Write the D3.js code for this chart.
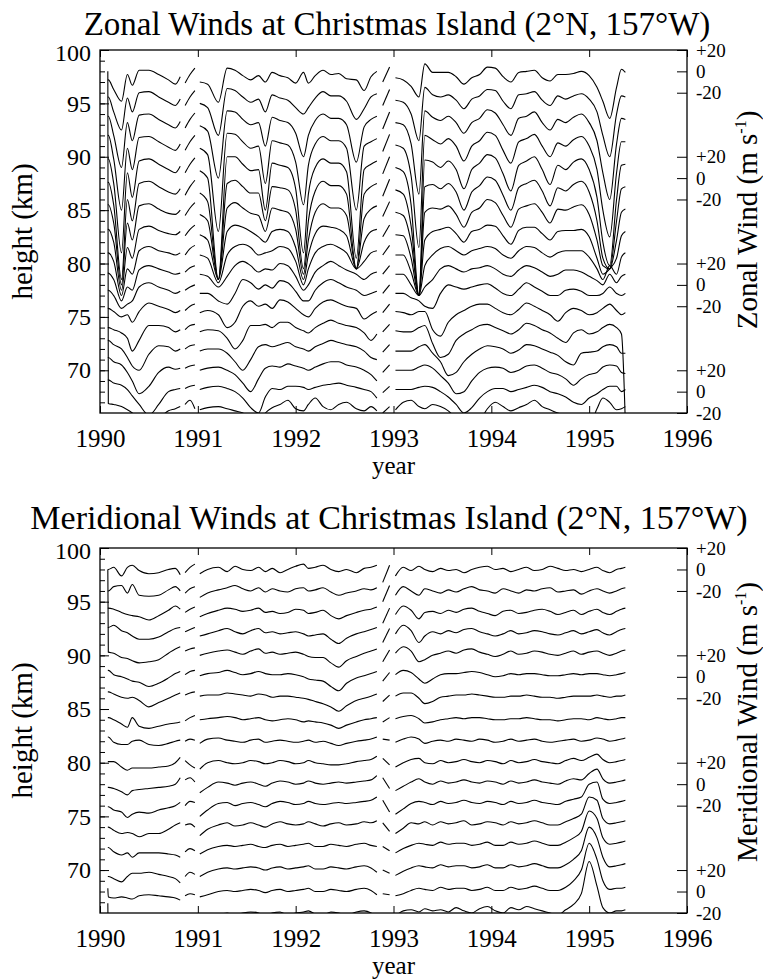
<!DOCTYPE html>
<html>
<head>
<meta charset="utf-8">
<script src="https://cdn.jsdelivr.net/npm/d3@7"></script>
<style>
body { margin: 0; background: #fff; }
</style>
</head>
<body>
<script>
// time knots per data segment (gaps between segments)
var yearSegments = [
  [1990.08, 1990.085, 1990.14, 1990.22, 1990.28, 1990.33, 1990.40, 1990.50, 1990.60, 1990.70, 1990.77, 1990.82],
  [1990.87, 1990.92, 1990.97],
  [1991.02, 1991.10, 1991.21, 1991.30, 1991.38, 1991.46, 1991.54, 1991.62, 1991.69, 1991.76, 1991.84, 1991.92,
   1992.00, 1992.08, 1992.13, 1992.20, 1992.28, 1992.36, 1992.44, 1992.52, 1992.62, 1992.70, 1992.77, 1992.83],
  [1992.89, 1992.96],
  [1993.02, 1993.10, 1993.18, 1993.26, 1993.32, 1993.40, 1993.48, 1993.56, 1993.64, 1993.72, 1993.80, 1993.88,
   1993.96, 1994.04, 1994.12, 1994.20, 1994.28, 1994.36, 1994.44, 1994.52, 1994.60, 1994.68, 1994.76, 1994.84,
   1994.92, 1995.00, 1995.08, 1995.14, 1995.21, 1995.28, 1995.33, 1995.37]
];

var heights = [98, 96, 94, 92, 90, 88, 86, 84, 82, 80, 78, 76, 74, 72, 70, 68, 66];

// zonal wind, m/s
var zonal98 = [[-8,-8,-17,-28,-3,-13,1,1,-3,-8,-12,-5],[-11,-3,3],
  [-10,-12,-29,3,1,-4,-8,-4,-10,-1,-4,-6,-11,-1,-11,-4,1,-3,-2,-7,-8,-18,-5,0],[-10,4],
  [-6,-8,-14,-24,7,-1,-1,-1,-5,-12,-6,-3,4,3,-5,-10,-1,0,1,-6,-9,-3,-3,-2,0,-4,-15,-28,-44,-15,2,-1]];
var zonal96 = [[-4,-4,-18,-35,-5,-18,0,1,-4,-9,-12,-6],[-12,-4,2],
  [-10,-14,-40,4,2,-4,-9,-6,-18,-2,-5,-7,-14,-20,-14,-5,1,-3,-3,-8,-25,-15,-4,-1],[-12,3],
  [-7,-9,-20,-45,5,-2,-4,-2,-7,-15,-6,-3,3,2,-8,-15,-2,-1,1,-7,-12,-3,-6,-3,-1,-6,-18,-40,-60,-20,-3,-4]];
var zonal94 = [[-2,-2,-20,-50,-8,-25,-1,0,-5,-10,-13,-7],[-13,-5,1],
  [-11,-16,-60,3,2,-5,-10,-8,-30,-3,-6,-8,-18,-40,-20,-6,0,-4,-4,-10,-45,-12,-5,-2],[-14,2],
  [-8,-10,-28,-75,3,-3,-6,-2,-8,-18,-8,-4,4,1,-10,-20,-4,-2,2,-8,-15,-5,-8,-3,0,-8,-25,-55,-80,-28,-4,-5]];
var zonal92 = [[0,0,-22,-70,-12,-32,-2,-1,-6,-11,-14,-8],[-14,-6,0],
  [-12,-18,-90,2,1,-6,-12,-10,-45,-5,-7,-9,-25,-65,-28,-8,-1,-5,-5,-12,-70,-10,-6,-3],[-15,1],
  [-9,-12,-38,-105,0,-4,-8,-3,-10,-24,-10,-5,3,0,-14,-26,-6,-3,1,-10,-20,-7,-10,-4,-1,-10,-32,-70,-95,-35,-6,-6]];
var zonal90 = [[-2,-2,-25,-90,-15,-38,-4,-2,-7,-12,-15,-9],[-15,-7,-1],
  [-13,-20,-115,0,0,-7,-13,-12,-50,-6,-8,-10,-30,-90,-35,-10,-2,-6,-6,-14,-95,-12,-7,-4],[-16,0],
  [-10,-14,-45,-130,-3,-5,-10,-4,-12,-30,-12,-6,2,-1,-16,-32,-8,-4,0,-12,-26,-8,-12,-5,-2,-12,-38,-80,-102,-40,-8,-7]];
var zonal88 = [[-4,-4,-25,-95,-20,-40,-5,-3,-8,-13,-15,-10],[-16,-8,-2],
  [-14,-22,-95,-5,-2,-8,-14,-14,-40,-8,-9,-11,-30,-85,-40,-12,-3,-7,-7,-15,-85,-15,-8,-5],[-17,-1],
  [-11,-15,-45,-110,-8,-6,-10,-5,-13,-30,-13,-7,1,-2,-16,-30,-9,-5,-2,-12,-26,-9,-12,-6,-3,-13,-40,-75,-85,-40,-10,-8]];
var zonal86 = [[-5,-5,-22,-80,-22,-38,-6,-4,-9,-13,-14,-10],[-15,-8,-3],
  [-14,-20,-75,-8,-3,-8,-13,-15,-30,-8,-10,-12,-28,-70,-38,-12,-4,-8,-8,-15,-65,-18,-9,-6],[-16,-2],
  [-12,-15,-40,-90,-12,-8,-9,-6,-14,-26,-12,-8,0,-3,-15,-26,-9,-6,-4,-12,-22,-9,-10,-7,-5,-14,-38,-62,-65,-38,-12,-9]];
var zonal84 = [[-8,-8,-20,-65,-25,-35,-8,-5,-9,-12,-13,-10],[-14,-8,-4],
  [-13,-18,-55,-10,-4,-6,-10,-15,-20,-10,-8,-10,-25,-55,-32,-12,-5,-6,-8,-14,-45,-20,-10,-8],[-15,-4],
  [-13,-14,-35,-70,-18,-10,-8,-6,-12,-20,-10,-8,-4,-5,-14,-22,-9,-6,-6,-12,-18,-10,-9,-9,-8,-15,-35,-50,-45,-35,-14,-10]];
var zonal82 = [[-10,-10,-18,-50,-25,-30,-8,-4,-8,-10,-12,-10],[-12,-6,-3],
  [-12,-15,-38,-12,-4,-2,-5,-12,-10,-8,-4,-6,-18,-40,-25,-10,-4,-2,-5,-10,-25,-18,-10,-8],[-12,-3],
  [-12,-12,-28,-50,-22,-12,-6,-4,-8,-12,-8,-6,-4,-6,-12,-15,-8,-4,-5,-10,-14,-10,-8,-8,-8,-14,-25,-35,-22,-30,-14,-10]];
var zonal80 = [[-9,-9,-15,-35,-22,-25,-6,-2,-5,-8,-10,-9],[-8,-4,-2],
  [-10,-12,-22,-12,-2,2,-2,-8,-5,-6,0,-2,-12,-25,-20,-8,-2,2,-2,-6,-10,-15,-10,-8],[-10,-2],
  [-10,-10,-20,-30,-22,-15,-5,-2,-5,-8,-5,-4,-2,-5,-10,-12,-6,-2,-4,-8,-12,-10,-6,-6,-8,-12,-16,-20,-10,-18,-12,-10]];
var zonal78 = [[-5,-5,-10,-22,-18,-15,-2,2,-2,-5,-8,-6],[-5,-2,0],
  [-8,-8,-15,-18,-8,5,2,-4,0,-3,4,2,-6,-15,-15,-5,2,5,2,-2,-5,-10,-8,-6],[-8,0],
  [-8,-8,-12,-15,-20,-22,-8,0,-2,-4,-2,0,1,-3,-8,-10,-4,2,-2,-6,-10,-10,-5,-4,-6,-10,-10,-8,-2,-8,-10,-8]];
var zonal76 = [[-2,-2,-5,-10,-8,-15,-5,3,0,-3,-6,-4],[-4,0,2],
  [-6,-4,-8,-20,-15,0,5,0,2,-2,6,4,-2,-8,-10,-2,4,6,3,0,-2,-12,-8,-5],[-6,2],
  [-5,-6,-8,-5,-5,-22,-28,-15,-8,-4,0,2,2,-2,-6,-8,-3,3,0,-4,-8,-14,-6,-2,-4,-8,-6,-2,2,-4,-8,-6]];
var zonal74 = [[0,0,-2,-5,-10,-22,-12,2,2,0,-4,-2],[-2,2,3],
  [-4,-2,-3,-10,-20,-12,2,2,3,0,5,5,0,-3,-5,0,4,7,4,2,0,-5,-12,-6],[-4,3],
  [-3,-4,-4,0,2,-15,-28,-25,-12,-6,-2,2,3,0,-3,-6,-2,4,2,-2,-5,-10,-14,-5,-2,-6,-4,0,3,0,-6,-90]];
var zonal72 = [[8,8,4,0,-8,-16,-20,-5,3,2,-2,0],[0,3,4],
  [-2,0,0,-4,-12,-20,-10,2,4,2,4,6,2,0,-2,2,5,8,6,4,2,-2,-8,-10],[-3,4],
  [-2,-2,-2,2,4,-4,-12,-25,-22,-12,-5,0,3,2,0,-4,-1,4,3,0,-3,-6,-12,-15,-4,-3,-2,2,4,2,-4,-4]];
var zonal70 = [[12,12,8,5,-2,-10,-22,-15,-2,3,1,2],[2,4,5],
  [0,2,3,0,-4,-12,-20,-8,2,4,3,6,4,2,0,3,6,8,8,5,3,0,-4,-10],[-2,5],
  [0,0,0,3,5,2,-5,-12,-22,-20,-10,-2,2,3,2,-2,0,4,5,2,-2,-4,-8,-14,-8,-4,-2,3,5,4,-2,-3]];
var zonal68 = [[11,11,8,6,2,-4,-12,-22,-12,0,2,3],[3,5,6],
  [2,4,5,3,0,-6,-15,-20,-5,3,2,5,5,4,2,4,6,7,8,6,4,2,0,-6],[-1,5],
  [2,2,2,4,5,4,0,-5,-12,-20,-15,-6,0,3,3,0,2,4,6,4,0,-2,-5,-10,-12,-6,-2,2,5,5,0,2]];
var zonal66 = [[320,9,8,6,3,0,-5,-10,-5,2,4,6],[8,12,4],
  [3,5,6,4,2,0,-6,-10,0,5,8,12,4,2,8,14,6,3,8,10,4,2,6,2],[0,6],
  [3,10,12,6,4,8,6,2,-5,-10,-15,-8,4,10,6,2,5,8,12,6,3,0,-2,-4,-8,-12,4,14,10,3,4,6]];

// meridional wind, m/s
var merid98 = [[0,0,2,-6,2,4,-1,-4,-3,0,1,-5],[-3,2,5],
  [-4,0,2,-2,3,0,-1,2,-2,1,-3,0,3,5,1,2,4,0,-2,0,-3,1,2,4],[-12,4],
  [-6,2,-1,3,0,-2,1,-1,0,-3,0,2,3,0,1,-2,0,2,-1,0,3,1,-1,0,-2,0,2,-1,-3,0,1,2]];
var merid96 = [[0,0,4,5,-2,6,-4,-5,-4,1,4,0],[-2,2,4],
  [-6,-2,1,3,5,2,0,3,-1,2,0,-1,2,3,0,1,3,-1,-4,-2,0,2,1,3],[-10,5],
  [-4,4,0,-4,2,0,-2,1,-1,2,4,1,0,-2,2,0,-2,1,0,2,3,-1,0,1,-3,0,2,0,-2,0,2,3]];
var merid94 = [[4,4,3,0,-2,-3,-4,-7,-3,2,6,3],[0,3,5],
  [-4,-1,2,4,3,1,2,4,0,1,-1,0,3,2,-1,0,2,-3,-6,-3,0,2,3,5],[-10,4],
  [-2,6,2,-6,0,1,-1,2,0,3,4,1,-1,-3,1,2,-1,0,2,3,1,-2,0,2,-2,1,3,0,-2,1,3,4]];
var merid92 = [[6,6,8,3,1,-2,-5,-5,-3,2,5,6],[2,4,6],
  [-2,0,3,5,2,0,3,5,1,2,0,1,2,0,-2,-1,0,-5,-9,-4,0,2,4,6],[-8,5],
  [0,8,3,-8,-2,2,0,3,1,4,5,2,0,-2,0,3,0,1,3,2,0,-1,1,3,0,2,4,1,-1,2,4,5]];
var merid90 = [[80,3,2,-2,-3,-5,-7,-6,-4,2,6,8],[4,6,7],
  [0,2,4,5,3,1,4,6,2,3,1,2,3,1,-1,-2,-2,-7,-11,-5,-1,2,4,6],[-6,5],
  [2,8,4,-6,-4,0,2,4,2,5,6,3,1,-1,1,4,1,2,4,3,1,0,2,4,1,3,4,2,0,2,4,5]];
var merid88 = [[6,6,2,0,-2,-4,-5,-9,-6,-1,3,5],[2,5,6],
  [1,3,4,6,4,2,3,5,3,2,2,3,2,0,-2,-3,-4,-9,-13,-6,-1,1,3,5],[-4,4],
  [2,6,4,-2,-6,-2,2,3,3,4,5,4,2,0,1,3,2,3,3,2,1,1,2,3,2,3,3,2,1,2,3,4]];
var merid86 = [[6,6,4,1,0,1,-2,-8,-4,0,3,5],[3,5,6],
  [2,3,3,5,4,3,2,4,3,1,2,2,1,0,-1,-3,-5,-8,-12,-7,-2,0,2,4],[-3,3],
  [2,5,5,0,-5,-3,1,2,3,3,4,3,2,1,1,2,2,3,2,1,1,0,1,2,2,2,3,2,1,2,2,3]];
var merid84 = [[2,2,0,-4,-7,2,-6,-8,-6,-4,-3,-2],[-1,2,4],
  [0,1,2,3,2,0,1,2,0,-1,0,1,0,-2,-1,-2,-3,-5,-8,-5,-2,0,1,2],[-2,2],
  [1,3,4,1,-3,-2,0,1,2,1,2,2,1,0,0,1,1,2,1,0,0,-1,0,1,1,0,2,1,0,1,2,2]];
var merid82 = [[4,4,-1,-3,-3,0,1,-3,-4,-2,0,1],[0,2,1],
  [-2,2,3,1,0,-1,1,2,-1,0,1,0,-1,0,1,-1,0,-2,-4,-2,0,1,2,4],[2,1],
  [-1,2,4,2,-2,0,1,0,2,1,0,2,1,-1,0,2,0,1,2,0,-1,0,1,2,0,1,3,2,0,1,2,3]];
var merid80 = [[1,1,1,-4,-7,-5,-5,-5,-4,-3,0,5],[2,-2,-5],
  [-6,0,2,0,-1,0,2,1,-1,0,2,1,-1,0,2,0,-1,-2,-2,-1,1,2,3,6],[4,-2],
  [-4,0,3,4,0,-1,2,0,1,3,1,0,2,1,-1,2,0,1,3,1,0,-1,2,4,2,5,8,3,0,1,2,3]];
var merid78 = [[-3,-3,-4,-7,-10,-6,-5,-4,-3,-2,0,6],[4,6,2],
  [-8,-3,2,1,-1,1,2,0,-2,1,3,2,0,1,3,1,0,1,2,1,2,3,4,8],[6,-4],
  [-6,-2,2,5,2,0,3,1,2,4,2,1,3,2,0,3,1,2,4,2,1,0,3,5,4,10,14,5,1,2,3,4]];
var merid76 = [[-1,-1,-4,-6,-11,-8,-6,-7,-4,-2,0,3],[0,4,3],
  [-10,-4,2,3,0,2,3,1,-1,2,4,3,1,2,4,2,1,2,3,2,3,4,5,8],[5,-6],
  [-8,-3,2,4,3,1,4,2,3,5,3,2,4,3,1,4,2,3,5,3,2,1,4,6,8,20,22,6,2,3,4,5]];
var merid74 = [[0,0,-3,-6,-5,-6,-9,-6,-6,-2,2,4],[2,3,0],
  [-8,-2,2,4,1,2,4,2,0,3,5,3,2,3,5,3,1,3,4,2,3,5,4,6],[4,-4],
  [-6,-1,4,3,5,2,5,3,4,6,2,3,5,4,2,5,3,4,6,4,2,2,5,8,12,28,25,8,3,4,5,6]];
var merid72 = [[1,1,-3,-6,-4,-8,-4,-4,-4,-5,-6,-8],[-3,0,-2],
  [-5,-1,2,3,2,3,4,2,1,3,4,2,3,4,5,2,2,4,3,2,4,5,3,2],[2,-2],
  [-4,0,3,5,4,3,6,4,5,5,3,4,6,3,3,6,4,5,7,5,3,3,6,10,16,35,28,10,4,5,6,7]];
var merid70 = [[-6,-6,-8,-11,-6,-3,-3,-2,-4,-6,-8,-12],[-6,-2,-4],
  [-6,-2,1,2,1,2,3,2,0,2,3,1,2,3,4,1,1,3,2,1,3,4,2,-2],[0,-3],
  [-5,-1,2,4,3,2,5,3,4,4,2,3,5,2,2,5,3,4,6,4,2,2,5,10,18,40,30,12,3,4,5,6]];
var merid68 = [[3,-5,-6,-5,-6,-7,-4,-3,-4,-5,-6,-8],[-4,-2,-3],
  [-5,-3,0,1,0,1,2,1,-1,1,2,0,1,2,3,0,0,2,1,0,2,3,1,-3],[-2,-3],
  [-4,-2,1,3,2,1,4,2,3,3,1,2,4,1,1,4,2,3,5,3,1,1,4,10,20,45,30,10,2,3,3,4]];
var merid66 = [[9,-20,-3,-5,-8,-6,-4,-6,-5,-3,-4,-2],[-6,-3,-4],
  [-6,-4,-2,0,-2,0,1,0,-3,0,1,-2,0,1,2,-1,-2,1,0,-2,1,2,0,-4],[-3,-4],
  [-3,2,3,1,4,2,3,1,5,2,0,4,6,2,0,5,3,6,4,2,0,-2,3,8,18,48,25,5,0,2,2,3]];

var zonalSeries = [zonal98, zonal96, zonal94, zonal92, zonal90, zonal88, zonal86, zonal84, zonal82,
                   zonal80, zonal78, zonal76, zonal74, zonal72, zonal70, zonal68, zonal66];
var meridSeries = [merid98, merid96, merid94, merid92, merid90, merid88, merid86, merid84, merid82,
                   merid80, merid78, merid76, merid74, merid72, merid70, merid68, merid66];

var yearTicks = [1990, 1991, 1992, 1993, 1994, 1995, 1996];
var heightTicks = [70, 75, 80, 85, 90, 95, 100];
var windTicks = [20, 0, -20];
var windTickLabels = ["+20", "0", "-20"];
var windRefHeights = [98, 88, 78, 68];
var kmPerMs = 0.1;   // each trace: 10 m/s = 1 km of offset

var W = 763, H = 979;
var left = 100, right = 687;
var serif = "'Liberation Serif', 'Times New Roman', serif";

var svg = d3.select("body").append("svg")
    .attr("width", W)
    .attr("height", H);

svg.append("rect").attr("width", W).attr("height", H).attr("fill", "#fff");

var x = d3.scaleLinear().domain([1990, 1996]).range([left, right]);

function label(sel, size) {
  return sel.style("font-family", serif).style("font-size", size + "px").style("fill", "#000");
}

var panels = [
  {id: "zonal", title: "Zonal Winds at Christmas Island (2°N, 157°W)", wind: "Zonal Wind",
   series: zonalSeries, top: 50, bottom: 413, titleX: 397, titleY: 35, titleSize: 33, windY: 220},
  {id: "merid", title: "Meridional Winds at Christmas Island (2°N, 157°W)", wind: "Meridional Wind",
   series: meridSeries, top: 548, bottom: 913, titleX: 389, titleY: 529, titleSize: 34, windY: 722}
];

panels.forEach(function(p) {
  var y = d3.scaleLinear().domain([66, 100]).range([p.bottom, p.top]);

  svg.append("clipPath").attr("id", "clip-" + p.id)
    .append("rect")
    .attr("x", left).attr("y", p.top)
    .attr("width", right - left).attr("height", p.bottom - p.top);

  var plot = svg.append("g").attr("clip-path", "url(#clip-" + p.id + ")");

  p.series.forEach(function(segs, i) {
    var h = heights[i];
    var line = d3.line()
      .curve(d3.curveMonotoneX)
      .x(function(d) { return x(d[0]); })
      .y(function(d) { return y(h + d[1] * kmPerMs); });
    segs.forEach(function(vals, s) {
      plot.append("path")
        .datum(d3.zip(yearSegments[s], vals))
        .attr("fill", "none")
        .attr("stroke", "#000")
        .attr("stroke-width", 1.1)
        .attr("d", line);
    });
  });

  // frame
  svg.append("rect")
    .attr("x", left).attr("y", p.top)
    .attr("width", right - left).attr("height", p.bottom - p.top)
    .attr("fill", "none").attr("stroke", "#000").attr("stroke-width", 1.3);

  // left axis: majors with labels, minors every km
  var gl = svg.append("g").attr("transform", "translate(" + left + ",0)")
    .call(d3.axisLeft(y).tickValues(heightTicks).tickSizeInner(-9).tickSizeOuter(0).tickPadding(9));
  gl.select(".domain").remove();
  label(gl.selectAll("text"), 24);
  gl.selectAll(".tick").filter(function(v) { return v === 100; }).select("text").attr("y", 3);
  var gm = svg.append("g").attr("transform", "translate(" + left + ",0)")
    .call(d3.axisLeft(y).tickValues(d3.range(67, 100)).tickSizeInner(-5).tickSizeOuter(0).tickFormat(""));
  gm.select(".domain").remove();

  // top and bottom year ticks
  var gt = svg.append("g").attr("transform", "translate(0," + p.top + ")")
    .call(d3.axisTop(x).tickValues(yearTicks).tickSizeInner(-7).tickSizeOuter(0).tickFormat(""));
  gt.select(".domain").remove();
  var gb = svg.append("g").attr("transform", "translate(0," + p.bottom + ")")
    .call(d3.axisBottom(x).tickValues(yearTicks).tickSizeInner(-7).tickSizeOuter(0)
      .tickPadding(16).tickFormat(d3.format("d")));
  gb.select(".domain").remove();
  label(gb.selectAll("text"), 25);

  label(svg.append("text"), 25)
    .attr("x", (left + right) / 2).attr("y", p.bottom + 61)
    .attr("text-anchor", "middle")
    .text("year");

  // right wind scale
  var rightVals = [], rightLabels = {};
  windRefHeights.forEach(function(h) {
    windTicks.forEach(function(t, k) {
      var v = h + t * kmPerMs;
      rightVals.push(v);
      rightLabels[v.toFixed(2)] = windTickLabels[k];
    });
  });
  var gr = svg.append("g").attr("transform", "translate(" + right + ",0)")
    .call(d3.axisRight(y).tickValues(rightVals).tickSizeInner(-10).tickSizeOuter(0).tickPadding(9)
      .tickFormat(function(v) { return rightLabels[v.toFixed(2)]; }));
  gr.select(".domain").remove();
  label(gr.selectAll("text"), 19);

  // axis titles
  label(svg.append("text"), 29)
    .attr("transform", "translate(32," + ((p.top + p.bottom) / 2) + ") rotate(-90)")
    .attr("text-anchor", "middle")
    .text("height (km)");

  var wt = label(svg.append("text"), 29)
    .attr("transform", "translate(757," + p.windY + ") rotate(-90)")
    .attr("text-anchor", "middle");
  wt.append("tspan").text(p.wind + " (m s");
  wt.append("tspan").attr("dy", -11).style("font-size", "16px").text("-1");
  wt.append("tspan").attr("dy", 11).text(")");

  label(svg.append("text"), p.titleSize)
    .attr("x", p.titleX).attr("y", p.titleY)
    .attr("text-anchor", "middle")
    .text(p.title);
});
</script>
</body>
</html>
